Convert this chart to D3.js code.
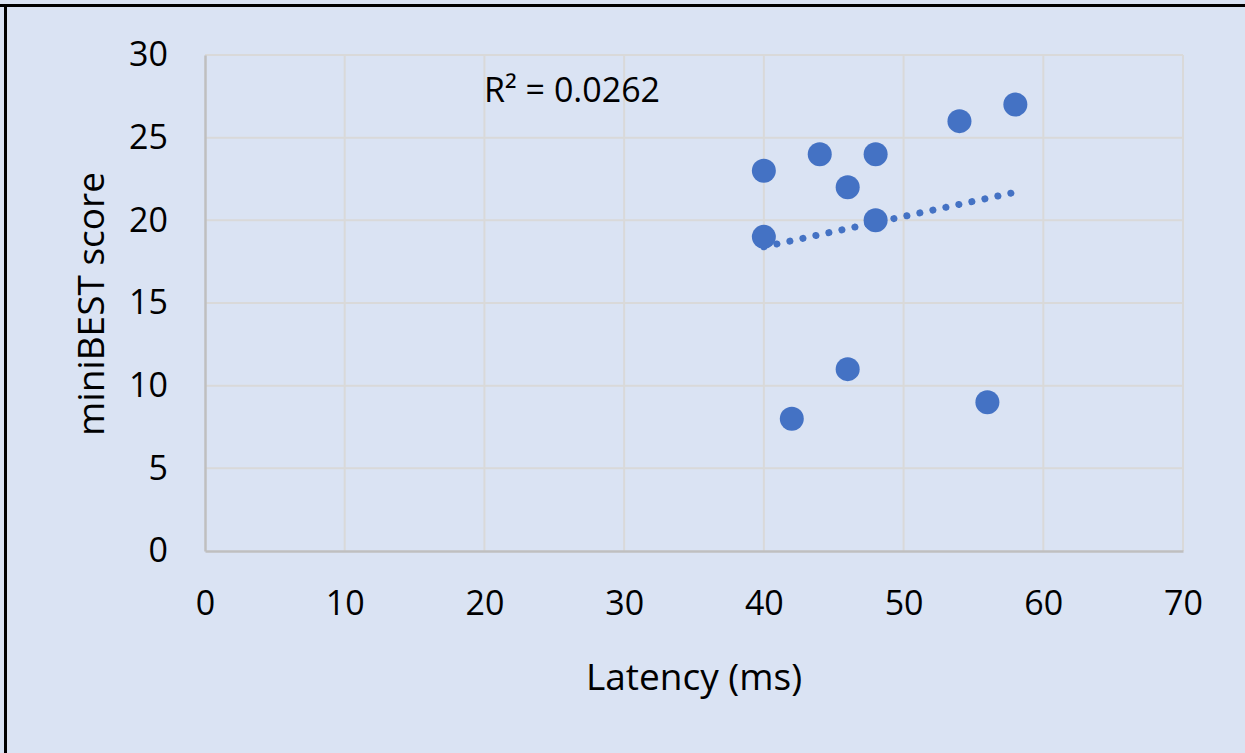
<!DOCTYPE html>
<html>
<head>
<meta charset="utf-8">
<script src="https://cdn.jsdelivr.net/npm/d3@7"></script>
<style>
  html, body { margin: 0; padding: 0; background: #dae3f3; }
  svg { display: block; }
</style>
</head>
<body>
<svg id="chart" width="1245" height="753"></svg>
<script>
// Data
const latency = [40, 40, 42, 44, 46, 46, 48, 48, 54, 56, 58];
const miniBEST = [23, 19, 8, 24, 22, 11, 24, 20, 26, 9, 27];
const trendX = [40, 58];
const trendY = [18.4, 21.7];
const xTicks = [0, 10, 20, 30, 40, 50, 60, 70];
const yTicks = [0, 5, 10, 15, 20, 25, 30];
const rSquaredLabel = "R² = 0.0262";
const xTitle = "Latency (ms)";
const yTitle = "miniBEST score";

(function () {
const W = 1245, H = 753;
const svg = d3.select("#chart");
const font = "'Open Sans', 'Noto Sans', sans-serif";

svg.append("rect").attr("width", W).attr("height", H).attr("fill", "#dae3f3");
// top & left frame
svg.append("line").attr("x1", 0).attr("x2", W).attr("y1", 5.5).attr("y2", 5.5).attr("stroke", "#000").attr("stroke-width", 3);
svg.append("line").attr("x1", 5.5).attr("x2", 5.5).attr("y1", 4).attr("y2", H).attr("stroke", "#000").attr("stroke-width", 3);

const pl = 205, pr = 1183, pt = 55, pb = 551;
const x = d3.scaleLinear().domain([0, 70]).range([pl, pr]);
const y = d3.scaleLinear().domain([0, 30]).range([pb, pt]);

// gridlines
const grid = svg.append("g");
grid.selectAll(".vg").data(xTicks.filter(d => d > 0)).enter().append("line")
  .attr("x1", d => x(d)).attr("x2", d => x(d)).attr("y1", pt).attr("y2", pb)
  .attr("stroke", "#d9d9d9").attr("stroke-width", 2);
grid.selectAll(".hg").data(yTicks.filter(d => d > 0)).enter().append("line")
  .attr("x1", pl).attr("x2", pr).attr("y1", d => y(d)).attr("y2", d => y(d))
  .attr("stroke", "#d9d9d9").attr("stroke-width", 2);

// axes
const xAxis = d3.axisBottom(x).tickValues(xTicks).tickSize(0).tickPadding(40).tickFormat(d3.format("d"));
const yAxis = d3.axisLeft(y).tickValues(yTicks).tickSize(0).tickPadding(37).tickFormat(d3.format("d"));
const gx = svg.append("g").attr("transform", `translate(0,${pb})`).call(xAxis);
const gy = svg.append("g").attr("transform", `translate(${pl},0)`).call(yAxis);
[gx, gy].forEach(g => {
  g.select(".domain").attr("stroke", "#bfbfbf").attr("stroke-width", 2.5);
  g.selectAll("text").attr("font-family", font).attr("font-size", 34).attr("fill", "#000");
});
gx.selectAll("text").attr("dy", "0.71em");

// trendline (dotted)
svg.append("line")
  .attr("x1", x(trendX[0])).attr("y1", y(trendY[0]))
  .attr("x2", x(trendX[1])).attr("y2", y(trendY[1]))
  .attr("stroke", "#4472c4").attr("stroke-width", 7)
  .attr("stroke-linecap", "round").attr("stroke-dasharray", "0.1 13.2");

// points
svg.append("g").selectAll("circle").data(latency.map((d, i) => [d, miniBEST[i]])).enter()
  .append("circle")
  .attr("cx", d => x(d[0])).attr("cy", d => y(d[1])).attr("r", 12)
  .attr("fill", "#4472c4");

// R² label
svg.append("text").attr("x", 572).attr("y", 102).attr("text-anchor", "middle")
  .attr("font-family", font).attr("font-size", 34).attr("fill", "#000").text(rSquaredLabel);

// axis titles
svg.append("text").attr("x", 694).attr("y", 690).attr("text-anchor", "middle")
  .attr("font-family", font).attr("font-size", 37).attr("fill", "#000").text(xTitle);
svg.append("text").attr("transform", "translate(104,304) rotate(-90)").attr("text-anchor", "middle")
  .attr("font-family", font).attr("font-size", 37).attr("fill", "#000").text(yTitle);
})();
</script>
</body>
</html>
